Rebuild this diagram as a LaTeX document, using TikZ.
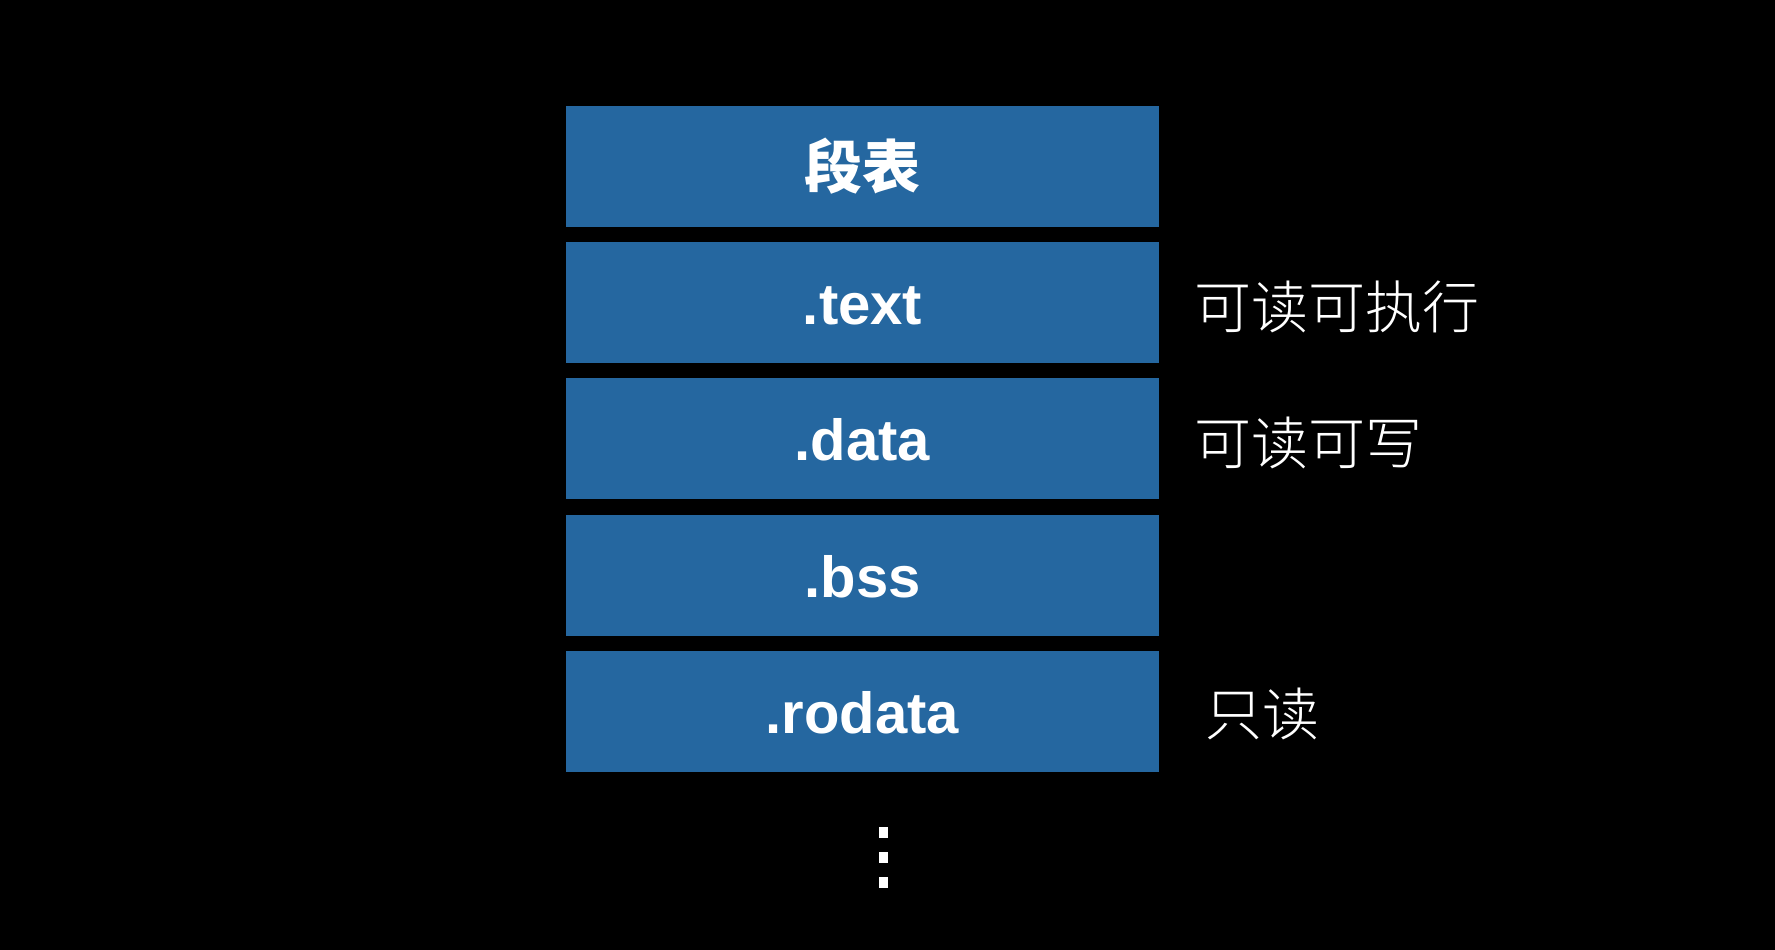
\documentclass[tikz,border=0pt]{standalone}
\usepackage{fontspec}
\setmainfont{Liberation Sans}
\newfontfamily\cjk{Noto Sans CJK SC}
\newfontfamily\cjklight{Noto Sans CJK SC Light}
\definecolor{segblue}{RGB}{37,103,160}
\tikzset{
  segbox/.style={fill=segblue, draw=none, minimum width=593pt, minimum height=121pt, inner sep=0pt,
    text=white, font=\fontsize{58}{62}\selectfont\bfseries, text height=45pt, text depth=0pt},
  permlabel/.style={anchor=west, text=white, inner sep=0pt, font=\cjklight\fontsize{57}{62}\selectfont},
  dotsq/.style={fill=white, draw=none, minimum width=9pt, minimum height=11pt, inner sep=0pt}
}
\begin{document}
\begin{tikzpicture}[x=1pt,y=-1pt]
\fill[black] (0,0) rectangle (1775,950);
\useasboundingbox (0,0) rectangle (1775,950);
\node[segbox] (tab) at (862.5,166) {\cjk 段表};
\node[segbox] (text) at (862.5,302) {.text};
\node[segbox] (data) at (862.5,438) {.data};
\node[segbox] (bss) at (862.5,575) {.bss};
\node[segbox] (rodata) at (862.5,711) {.rodata};
\node[permlabel] (ltext) at (1194,307) {可读可执行};
\node[permlabel] (ldata) at (1194,443) {可读可写};
\node[permlabel] (lrodata) at (1205,714) {只读};
\node[dotsq] (d1) at (883,832) {};
\node[dotsq] (d2) at (883,857) {};
\node[dotsq] (d3) at (883,882) {};
\end{tikzpicture}
\end{document}
